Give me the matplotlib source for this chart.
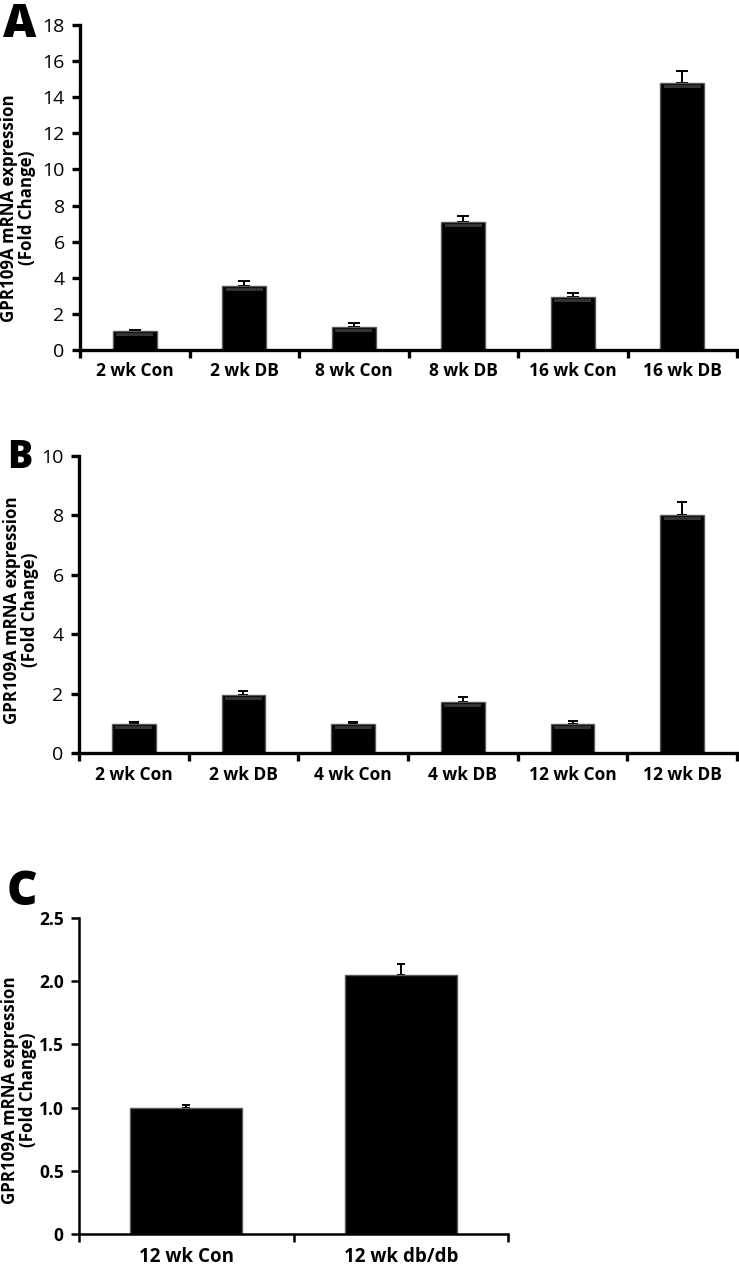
import matplotlib
matplotlib.use("Agg")
import matplotlib.pyplot as plt
import numpy as np

# ---- data ----
cats_a = ["2 wk Con", "2 wk DB", "8 wk Con", "8 wk DB", "16 wk Con", "16 wk DB"]
vals_a = [1.05, 3.55, 1.3, 7.1, 2.93, 14.8]
err_a = [0.08, 0.25, 0.2, 0.33, 0.2, 0.68]

cats_b = ["2 wk Con", "2 wk DB", "4 wk Con", "4 wk DB", "12 wk Con", "12 wk DB"]
vals_b = [0.98, 1.95, 0.98, 1.72, 0.98, 8.01]
err_b = [0.07, 0.14, 0.07, 0.15, 0.09, 0.44]

cats_c = ["12 wk Con", "12 wk db/db"]
vals_c = [1.0, 2.05]
err_c = [0.02, 0.09]

ylabel = "GPR109A mRNA expression\n(Fold Change)"

W, H = 739, 1264
fig = plt.figure(figsize=(W / 100, H / 100), dpi=100)
FONT = "Open Sans"


def px(x0, y0, x1, y1):
    return [x0 / W, 1 - y1 / H, (x1 - x0) / W, (y1 - y0) / H]


def panel(rect, cats, vals, errs, ymax, yticks, yticklabels, width,
          tfs, tweight, xfs, xweight, lw, capsize, gloss):
    ax = fig.add_axes(rect)
    x = np.arange(len(cats))
    ax.set_xlim(-0.5, len(cats) - 0.5)
    ax.set_ylim(0, ymax)
    ax.bar(x, vals, width=width, color="black", edgecolor="#5a5a5a", linewidth=1.0, zorder=2)
    if gloss:
        # subtle grey highlight band just under the top of each bar
        dy = ymax / (rect[3] * H)  # data units per pixel
        vals_arr = np.asarray(vals)
        ax.bar(x, 3 * dy, bottom=vals_arr - 5 * dy, width=width * 0.85,
               color="#333333", linewidth=0, zorder=3)
    ax.errorbar(x, vals, yerr=[np.zeros(len(errs)), errs], fmt="none", ecolor="black",
                elinewidth=1.4, capsize=capsize, capthick=1.4, zorder=1)
    ax.set_yticks(yticks)
    ax.set_yticklabels(yticklabels, family=FONT, fontsize=tfs, fontweight=tweight)
    ax.set_xticks(x)
    ax.set_xticklabels(cats, family=FONT, fontsize=xfs, fontweight=xweight)
    ax.set_xticks(np.arange(len(cats) + 1) - 0.5, minor=True)
    ax.tick_params(axis="x", which="major", length=0, pad=9)
    ax.tick_params(axis="x", which="minor", length=6, width=lw, direction="out")
    ax.tick_params(axis="y", length=6, width=lw, direction="out", pad=5)
    for s in ["top", "right"]:
        ax.spines[s].set_visible(False)
    for s in ["left", "bottom"]:
        ax.spines[s].set_linewidth(lw)
    ax.patch.set_alpha(0)
    return ax


# Panel A
panel(px(80, 25, 737, 350), cats_a, vals_a, err_a, 18, range(0, 19, 2),
      [str(v) for v in range(0, 19, 2)], 0.40, 14, "normal", 12.5, "bold", 2.4, 4.3, True)
# Panel B
panel(px(79, 456, 737, 753), cats_b, vals_b, err_b, 10, range(0, 11, 2),
      [str(v) for v in range(0, 11, 2)], 0.40, 14, "normal", 12.5, "bold", 2.4, 3.6, True)
# Panel C
cticks = [0, 0.5, 1.0, 1.5, 2.0, 2.5]
panel(px(79, 918, 508, 1234), cats_c, vals_c, err_c, 2.5, cticks,
      ["0", "0.5", "1.0", "1.5", "2.0", "2.5"], 0.52, 12.5, "bold", 13.5, "bold", 1.8, 2.6, False)

# y labels
for xc, yc in [(18, 208), (21, 610), (19, 1090)]:
    fig.text(xc / W, 1 - yc / H, ylabel, rotation=90, ha="center", va="center",
             fontsize=12.2, fontweight="bold", family=FONT, linespacing=0.95)

# panel letters
fig.text(3 / W, 1 - 37 / H, "A", fontsize=33, fontweight="heavy", family=FONT, va="baseline")
fig.text(7 / W, 1 - 468 / H, "B", fontsize=27, fontweight="heavy", family=FONT, va="baseline")
fig.text(7 / W, 1 - 905 / H, "C", fontsize=34, fontweight="heavy", family=FONT, va="baseline")

fig.savefig("out.png", dpi=100)
